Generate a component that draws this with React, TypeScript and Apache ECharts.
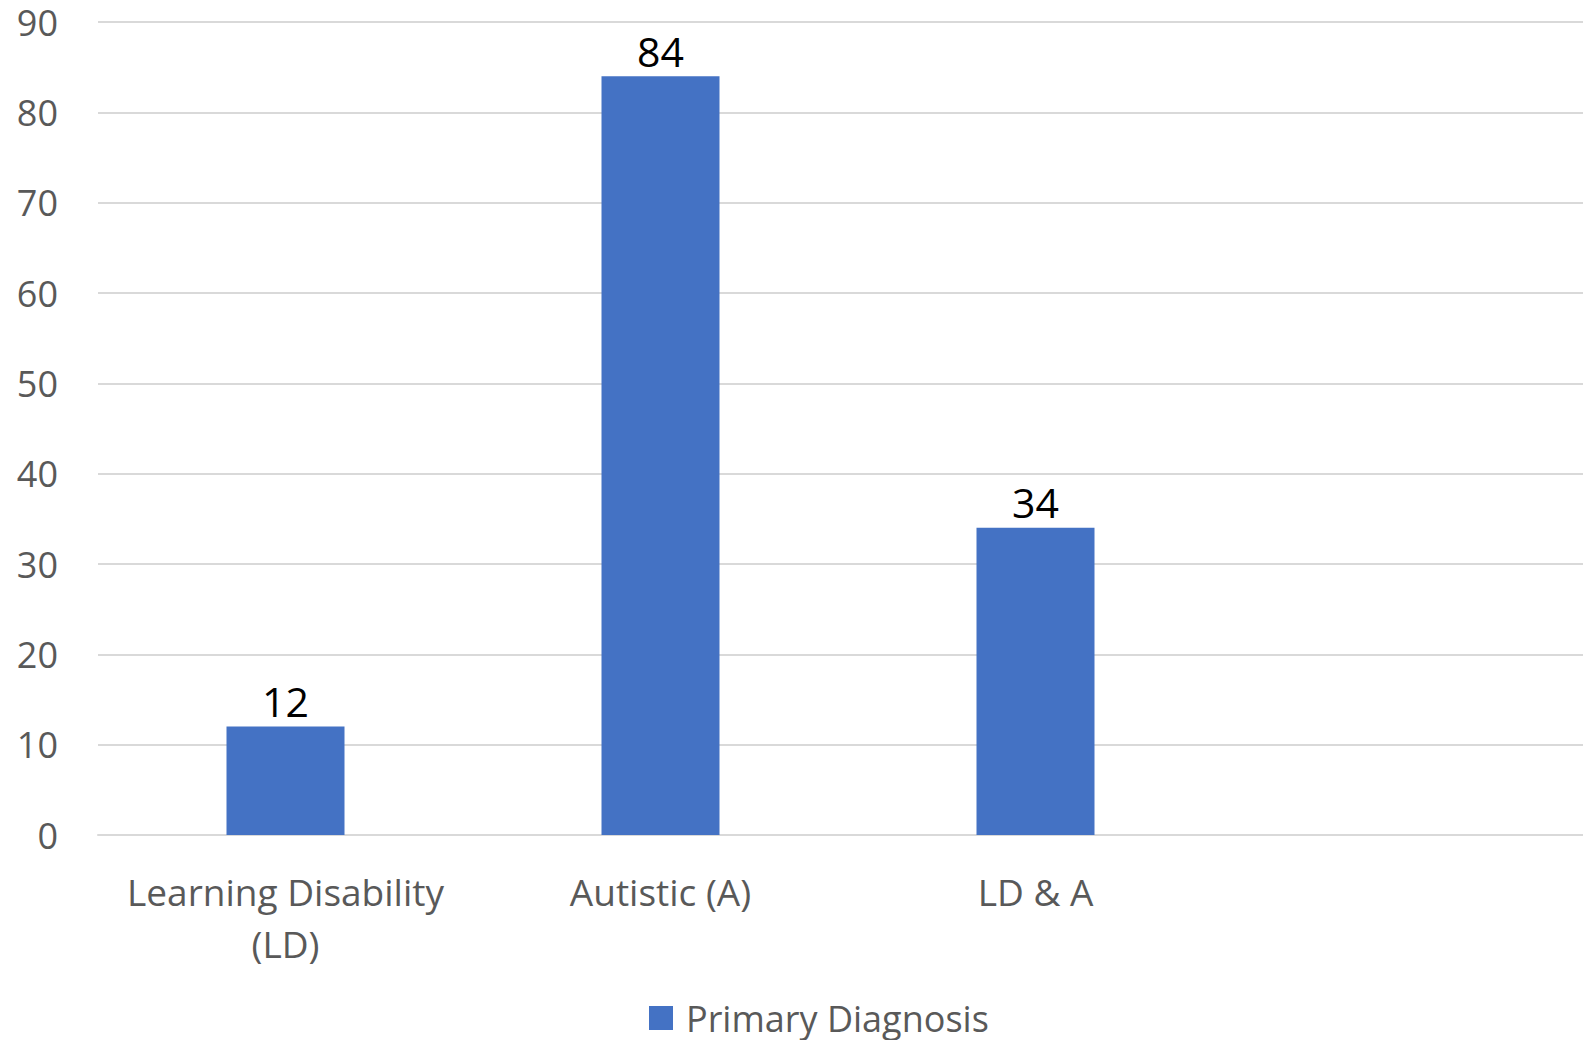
import React, { useEffect, useRef } from "react";
import * as echarts from "echarts";

// Category labels (the fourth slot is an empty column on the axis)
const categories = ["Learning Disability\n(LD)", "Autistic (A)", "LD & A", ""];
// Count of people per primary diagnosis
const primaryDiagnosis: (number | string)[] = [12, 84, 34, "-"];
const seriesName = "Primary Diagnosis";

const yMin = 0;
const yMax = 90;
const yStep = 10;

const FONT = "'Open Sans', 'Noto Sans', sans-serif";

export default function App() {
  const ref = useRef<HTMLDivElement>(null);

  useEffect(() => {
    document.body.style.margin = "0";
    if (!ref.current) return;
    const chart = echarts.init(ref.current, undefined, { renderer: "svg" });
    chart.setOption({
      animation: false,
      backgroundColor: "#ffffff",
      textStyle: { fontFamily: FONT },
      // the plot area runs a little past the right edge of the canvas
      grid: {
        left: 98,
        top: 22,
        width: 1500,
        height: 813,
        containLabel: false,
        outerBoundsMode: "none",
      },
      legend: {
        data: [seriesName],
        left: 649,
        top: 999,
        padding: 0,
        icon: "rect",
        itemWidth: 24,
        itemHeight: 24,
        textStyle: {
          fontFamily: FONT,
          fontSize: 36,
          color: "#595959",
          lineHeight: 38,
          padding: [0, 0, 0, 8],
        },
      },
      xAxis: {
        type: "category",
        data: categories,
        axisLine: { show: true, lineStyle: { color: "#d9d9d9", width: 2 } },
        axisTick: { show: false },
        axisLabel: {
          interval: 0,
          margin: 30,
          fontFamily: FONT,
          fontSize: 37,
          lineHeight: 52,
          color: "#595959",
        },
      },
      yAxis: {
        type: "value",
        min: yMin,
        max: yMax,
        interval: yStep,
        axisLine: { show: false },
        axisTick: { show: false },
        splitLine: { lineStyle: { color: "#d9d9d9", width: 2 } },
        axisLabel: {
          margin: 40,
          fontFamily: FONT,
          fontSize: 36,
          color: "#595959",
        },
      },
      series: [
        {
          name: seriesName,
          type: "bar",
          data: primaryDiagnosis,
          barWidth: 118,
          itemStyle: { color: "#4472C4" },
          label: {
            show: true,
            position: "top",
            distance: 5,
            fontFamily: FONT,
            fontSize: 41,
            color: "#000000",
          },
        },
      ],
    });
    return () => chart.dispose();
  }, []);

  return <div ref={ref} style={{ width: 1583, height: 1040 }} />;
}
